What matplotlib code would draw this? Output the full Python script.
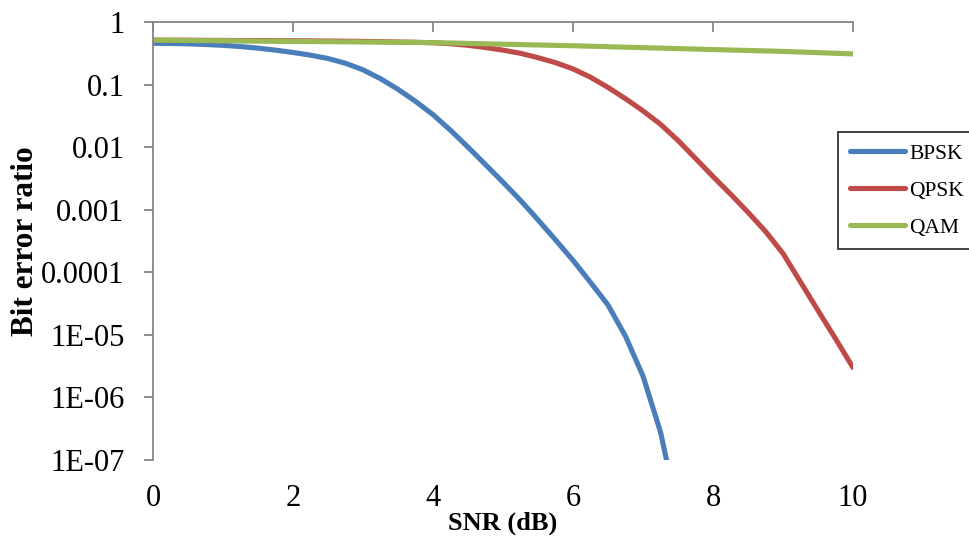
''' Bit error ratio vs SNR for BPSK / QPSK / QAM '''

import matplotlib
matplotlib.use("Agg")
import matplotlib.pyplot as plt

# data
snr_fine = [0, 0.25, 0.5, 0.75, 1, 1.25, 1.5, 1.75, 2, 2.25, 2.5, 2.75, 3, 3.25, 3.5, 3.75,
            4, 4.25, 4.5, 4.75, 5, 5.25, 5.5, 5.75, 6, 6.25, 6.5, 6.75, 7, 7.25, 7.5, 7.75,
            8, 8.25, 8.5, 8.75, 9, 9.25, 9.5, 9.75, 10]
snr_coarse = [0, 1, 2, 3, 4, 5, 6, 7, 8, 9, 10]
ber_bpsk = [0.457, 0.454, 0.448, 0.437, 0.424, 0.405, 0.382, 0.355, 0.326, 0.295, 0.261,
            0.219, 0.172, 0.124, 0.084, 0.0540, 0.0331, 0.0186, 0.0100, 0.00525, 0.00275,
            0.00141, 6.9e-4, 3.3e-4, 1.55e-4, 6.9e-5, 3.0e-5, 9.5e-6, 2.2e-6, 2.8e-7,
            1.4e-8, 1e-9]
ber_qpsk = [0.513, 0.512, 0.511, 0.509, 0.507, 0.506, 0.505, 0.503, 0.501, 0.499, 0.496,
            0.493, 0.490, 0.485, 0.479, 0.474, 0.466, 0.449, 0.424, 0.391, 0.355,
            0.316, 0.269, 0.224, 0.178, 0.131, 0.0900, 0.0595, 0.0380, 0.0232, 0.0128,
            0.0066, 0.00339, 0.00178, 9.1e-4, 4.5e-4, 2.0e-4, 7.0e-5, 2.45e-5, 8.7e-6, 3.0e-6]
ber_qam = [0.513, 0.501, 0.490, 0.479, 0.468, 0.442, 0.417, 0.389, 0.363, 0.339, 0.309]
series_names = ["BPSK", "QPSK", "QAM"]
series_colors = ["#4A7EBB", "#BE4B48", "#98B954"]
ytick_vals = [1, 0.1, 0.01, 0.001, 0.0001, 1e-5, 1e-6, 1e-7]
ytick_labels = ["1", "0.1", "0.01", "0.001", "0.0001", "1E-05", "1E-06", "1E-07"]
xtick_vals = [0, 2, 4, 6, 8, 10]

plt.rcParams['font.family'] = ['Liberation Serif', 'DejaVu Serif']

fig = plt.figure(figsize=(9.69, 5.42), dpi=100)
ax = fig.add_axes([153/969, 1 - 460/542, 700/969, 438/542])

xs = [snr_fine[:len(ber_bpsk)], snr_fine, snr_coarse]
lines = []
for x, vals, name, col in zip(xs, [ber_bpsk, ber_qpsk, ber_qam], series_names, series_colors):
    ln, = ax.plot(x, vals, color=col, lw=3.7, label=name,
                  solid_capstyle='round', solid_joinstyle='round')
    lines.append(ln)

ax.set_yscale('log')
ax.set_xlim(0, 10)
ax.set_ylim(1e-7, 1)
ax.set_yticks(ytick_vals)
ax.set_yticklabels(ytick_labels)
ax.minorticks_off()
ax.set_xticks(xtick_vals)

# spines: axis line on top (excel style), left spine
for s in ['bottom', 'right']:
    ax.spines[s].set_visible(False)
for s in ['top', 'left']:
    ax.spines[s].set_color('#868686')
    ax.spines[s].set_linewidth(1.3)

ax.tick_params(axis='x', top=True, bottom=False, labeltop=False, labelbottom=True,
               direction='in', length=7, width=1.3, color='#868686',
               labelsize=22, pad=17)
ax.tick_params(axis='y', direction='out', length=6.5, width=1.3, color='#868686',
               labelsize=22, pad=14)

ax.set_xlabel('SNR (dB)', fontsize=19, fontweight='bold')
ax.set_ylabel('Bit error ratio', fontsize=22.5, fontweight='bold')
ax.yaxis.set_label_coords(-0.161, 0.5)
ax.xaxis.set_label_coords(0.5, -0.118)

leg = fig.legend(handles=lines, loc='upper left', bbox_to_anchor=(838/969, 1 - 132/542),
                 fontsize=15.5, frameon=True, fancybox=False, edgecolor='black',
                 handlelength=2.55, handletextpad=0.2, labelspacing=0.78,
                 borderpad=0.55, borderaxespad=0)
leg.get_frame().set_linewidth(1.3)

fig.savefig("out.png", dpi=100)
